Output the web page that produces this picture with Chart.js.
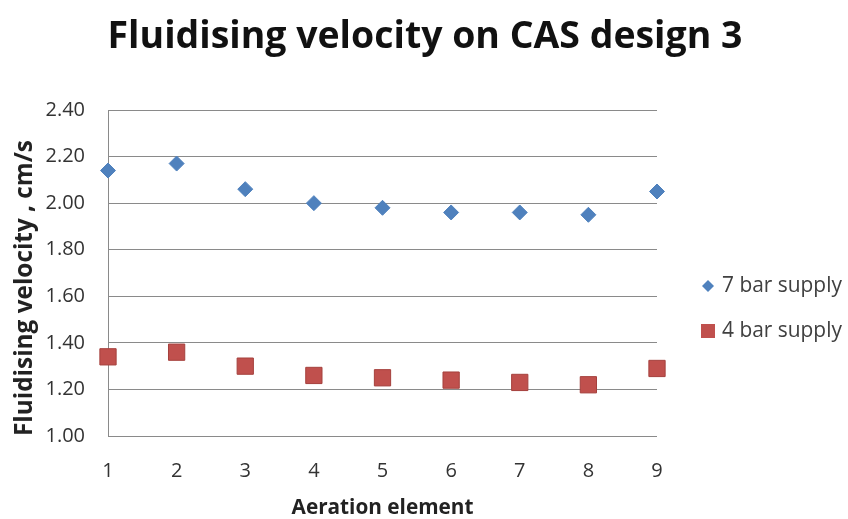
<!DOCTYPE html>
<html>
<head>
<meta charset="utf-8">
<script src="https://cdn.jsdelivr.net/npm/chart.js@4.4.1/dist/chart.umd.min.js"></script>
<style>
  html, body { margin: 0; padding: 0; background: #ffffff; }
  #wrap { width: 848px; height: 519px; position: relative; }
</style>
</head>
<body>
<div id="wrap"><canvas id="c" width="848" height="519"></canvas></div>
<script>
// Aeration elements along the CAS design 3 line
const elements = [1, 2, 3, 4, 5, 6, 7, 8, 9];
// Fluidising velocity (cm/s) per element for each supply pressure
const supply7bar = [2.14, 2.17, 2.06, 2.00, 1.98, 1.96, 1.96, 1.95, 2.05];
const supply4bar = [1.34, 1.36, 1.30, 1.26, 1.25, 1.24, 1.23, 1.22, 1.29];
const seriesNames = ['7 bar supply', '4 bar supply'];
const chartTitle = 'Fluidising velocity on CAS design 3';
const xTitle = 'Aeration element';
const yTitle = 'Fluidising velocity , cm/s';

const BLUE = '#4F81BD';
const RED = '#C0504D';
const FONT = '"Open Sans", Lato, sans-serif';

// Pick a font size so that a text run spans the wanted width
const measureCtx = document.createElement('canvas').getContext('2d');
function fitSize(text, weight, width) {
  measureCtx.font = weight + ' 100px ' + FONT;
  return 100 * width / measureCtx.measureText(text).width;
}
const titleSize = fitSize(chartTitle, 'bold', 635);
const xTitleSize = fitSize(xTitle, 'bold', 182);
const yTitleSize = fitSize(yTitle, 'bold', 296);
const legendSize = fitSize(seriesNames[0], 'normal', 120);

function toPoints(ys) {
  return elements.map((x, i) => ({ x: x, y: ys[i] }));
}

// Title and right-hand legend drawn on the canvas after the chart
const decorations = {
  id: 'decorations',
  afterDraw(chart) {
    const ctx = chart.ctx;
    ctx.save();
    ctx.fillStyle = '#111111';
    ctx.font = 'bold ' + titleSize + 'px ' + FONT;
    ctx.textAlign = 'center';
    ctx.textBaseline = 'middle';
    ctx.fillText(chartTitle, 425, 37);

    ctx.font = legendSize + 'px ' + FONT;
    ctx.textAlign = 'left';
    const ly1 = 286, ly2 = 331, mx = 708;
    // 7 bar: diamond
    ctx.fillStyle = BLUE;
    ctx.beginPath();
    ctx.moveTo(mx, ly1 - 6);
    ctx.lineTo(mx + 6, ly1);
    ctx.lineTo(mx, ly1 + 6);
    ctx.lineTo(mx - 6, ly1);
    ctx.closePath();
    ctx.fill();
    // 4 bar: square
    ctx.fillStyle = RED;
    ctx.fillRect(mx - 7, ly2 - 7, 14, 14);
    ctx.fillStyle = '#404040';
    ctx.fillText(seriesNames[0], 722, ly1);
    ctx.fillText(seriesNames[1], 722, ly2);
    ctx.restore();
  }
};

new Chart(document.getElementById('c'), {
  type: 'scatter',
  data: {
    datasets: [
      {
        label: seriesNames[0],
        data: toPoints(supply7bar),
        clip: false,
        pointStyle: 'rectRot',
        pointRadius: 7.5,
        pointHoverRadius: 7.5,
        backgroundColor: BLUE,
        borderColor: BLUE,
        borderWidth: 1
      },
      {
        label: seriesNames[1],
        data: toPoints(supply4bar),
        clip: false,
        pointStyle: 'rect',
        pointRadius: 11.5,
        pointHoverRadius: 11.5,
        backgroundColor: RED,
        borderColor: '#A5403D',
        borderWidth: 1
      }
    ]
  },
  options: {
    responsive: false,
    animation: false,
    devicePixelRatio: 1,
    layout: { padding: { top: 110, right: 191, bottom: 0, left: 0 } },
    plugins: {
      legend: { display: false },
      title: { display: false },
      tooltip: { enabled: false }
    },
    scales: {
      x: {
        type: 'linear',
        min: 1,
        max: 9,
        afterFit(scale) { scale.height = 83; },
        ticks: {
          stepSize: 1,
          padding: 23,
          color: '#333333',
          font: { family: FONT, size: 20 }
        },
        grid: { display: false, drawTicks: false },
        border: { display: false },
        title: {
          display: true,
          text: xTitle,
          color: '#222222',
          font: { family: FONT, size: xTitleSize, weight: 'bold' },
          padding: { top: 0, bottom: -2 }
        }
      },
      y: {
        min: 1.0,
        max: 2.4,
        afterFit(scale) { scale.width = 108; },
        ticks: {
          stepSize: 0.2,
          padding: 23,
          color: '#333333',
          font: { family: FONT, size: 20 },
          callback: (v) => Number(v).toFixed(2)
        },
        grid: { color: '#8a8a8a', lineWidth: 1, drawTicks: false },
        border: { display: true, color: '#8a8a8a', width: 1 },
        title: {
          display: true,
          text: yTitle,
          align: 'start',
          color: '#222222',
          font: { family: FONT, size: yTitleSize, weight: 'bold' },
          padding: { top: 10, bottom: 0 }
        }
      }
    }
  },
  plugins: [decorations]
});
</script>
</body>
</html>
